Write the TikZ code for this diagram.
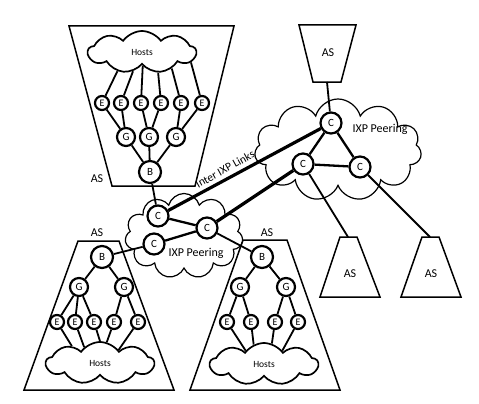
\documentclass[tikz,border=0pt]{standalone}
\usepackage{fontspec}
\setmainfont{Carlito}
\usetikzlibrary{shapes.symbols}

\begin{document}
\begin{tikzpicture}[x=1pt,y=-1pt,
  rtr/.style={circle, draw, fill=white, line width=2.2pt, inner sep=0pt, font=\fontsize{11}{12}\selectfont},
  enode/.style={rtr, minimum size=14pt, font=\fontsize{10}{11}\selectfont},
  gnode/.style={rtr, minimum size=18pt},
  bnode/.style={rtr, minimum size=22pt},
  cnode/.style={rtr, minimum size=21pt},
  hosts/.style={cloud, draw, line width=1.7pt, cloud puffs=9, cloud puff arc=110, cloud ignores aspect, minimum width=108pt, minimum height=42pt, font=\fontsize{9.5}{11}\selectfont},
  ixp/.style={cloud, draw, line width=1.2pt, cloud puffs=11, cloud ignores aspect},
  link/.style={line width=1.8pt},
  ixplink/.style={line width=2.3pt},
  interlink/.style={line width=3.2pt},
  asbox/.style={draw, line width=1.5pt},
  lbl/.style={font=\fontsize{12}{14}\selectfont}]
\useasboundingbox (0,0) rectangle (479,404);
% autonomous systems
\draw[asbox] (69,26) -- (234,26) -- (195,186) -- (112,186) -- cycle;
\draw[asbox] (299,25) -- (356,25) -- (341,82) -- (313,82) -- cycle;
\draw[asbox] (78,241) -- (119,241) -- (174,390) -- (24,390) -- cycle;
\draw[asbox] (243,240) -- (287,240) -- (340,390) -- (190,390) -- cycle;
\draw[asbox] (340,237) -- (357,237) -- (380,297) -- (320,297) -- cycle;
\draw[asbox] (422,237) -- (439,237) -- (461,297) -- (401,297) -- cycle;
\node[lbl] (as0) at (97,179) {AS};
\node[lbl] (as1) at (328,53) {AS};
\node[lbl] (as2) at (97,233) {AS};
\node[lbl] (as3) at (267,233) {AS};
\node[lbl] (as4) at (350,274) {AS};
\node[lbl] (as5) at (431,274) {AS};
\coordinate (as1bot) at (327,82);
\coordinate (as4top) at (348,237);
\coordinate (as5top) at (430,237);
% IXP clouds
\node[ixp, minimum width=167pt, minimum height=102pt] (ixp0) at (338,150) {};
\node[ixp, minimum width=118pt, minimum height=85pt] (ixp1) at (184,236) {};
\node[lbl] (ixp0l) at (380,129) {IXP Peering};
\node[lbl] (ixp1l) at (196,253) {IXP Peering};
% top left AS
\node[hosts] (h0) at (142,52) {Hosts};
\node[enode] (e0) at (102,103) {E};
\node[enode] (e1) at (121,103) {E};
\node[enode] (e2) at (141,103) {E};
\node[enode] (e3) at (161,103) {E};
\node[enode] (e4) at (181,103) {E};
\node[enode] (e5) at (202,103) {E};
\node[gnode] (g0) at (126,137) {G};
\node[gnode] (g1) at (149,137) {G};
\node[gnode] (g2) at (176,137) {G};
\node[bnode] (b0) at (150,172) {B};
\draw[link] (e0) -- (h0.-142);
\draw[link] (e1) -- (h0.-115);
\draw[link] (e2) -- (h0.-87);
\draw[link] (e3) -- (h0.-52);
\draw[link] (e4) -- (h0.-29);
\draw[link] (e5) -- (h0.-12);
\draw[link] (g0) -- (e0);
\draw[link] (g0) -- (e1);
\draw[link] (g1) -- (e2);
\draw[link] (g1) -- (e3);
\draw[link] (g2) -- (e4);
\draw[link] (g2) -- (e5);
\draw[link] (b0) -- (g0);
\draw[link] (b0) -- (g1);
\draw[link] (b0) -- (g2);
% bottom left AS
\node[hosts] (h1) at (100,363) {Hosts};
\node[enode] (e6) at (57,322) {E};
\node[enode] (e7) at (75,322) {E};
\node[enode] (e8) at (94,322) {E};
\node[enode] (e9) at (114,322) {E};
\node[enode] (e10) at (138,322) {E};
\node[gnode] (g3) at (79,287) {G};
\node[gnode] (g4) at (124,287) {G};
\node[bnode] (b1) at (102,257) {B};
\draw[link] (e6) -- (h1.149);
\draw[link] (e7) -- (h1.135);
\draw[link] (e8) -- (h1.90);
\draw[link] (e9) -- (h1.72);
\draw[link] (e10) -- (h1.35);
\draw[link] (g3) -- (e6);
\draw[link] (g3) -- (e7);
\draw[link] (g3) -- (e8);
\draw[link] (g4) -- (e9);
\draw[link] (g4) -- (e10);
\draw[link] (b1) -- (g3);
\draw[link] (b1) -- (g4);
% bottom middle AS
\node[hosts] (h2) at (264,364) {Hosts};
\node[enode] (e11) at (227,322) {E};
\node[enode] (e12) at (251,322) {E};
\node[enode] (e13) at (275,322) {E};
\node[enode] (e14) at (298,322) {E};
\node[gnode] (g5) at (240,287) {G};
\node[gnode] (g6) at (286,287) {G};
\node[bnode] (b2) at (262,257) {B};
\draw[link] (e11) -- (h2.144);
\draw[link] (e12) -- (h2.118);
\draw[link] (e13) -- (h2.69);
\draw[link] (e14) -- (h2.36);
\draw[link] (g5) -- (e11);
\draw[link] (g5) -- (e12);
\draw[link] (g6) -- (e13);
\draw[link] (g6) -- (e14);
\draw[link] (b2) -- (g5);
\draw[link] (b2) -- (g6);
% IXP core
\node[cnode] (c0) at (331,123) {C};
\node[cnode] (c1) at (303,164) {C};
\node[cnode] (c2) at (360,167) {C};
\node[cnode] (c3) at (158,216) {C};
\node[cnode] (c4) at (207,228) {C};
\node[cnode] (c5) at (154,244) {C};
\draw[ixplink] (c0) -- (c1);
\draw[ixplink] (c0) -- (c2);
\draw[ixplink] (c1) -- (c2);
\draw[ixplink] (c3) -- (c4);
\draw[ixplink] (c5) -- (c4);
\draw[interlink] (c3) -- (c0);
\draw[interlink] (c4) -- (c1);
\node[font=\fontsize{11.5}{13}\selectfont, rotate=29, inner sep=0pt] (il) at (225,169) {Inter IXP Links};
\draw[link] (as1bot) -- (c0);
\draw[link] (c1) -- (as4top);
\draw[link] (c2) -- (as5top);
\draw[link] (b0) -- (c3);
\draw[link] (c5) -- (b1);
\draw[link] (c4) -- (b2);
\end{tikzpicture}
\end{document}
